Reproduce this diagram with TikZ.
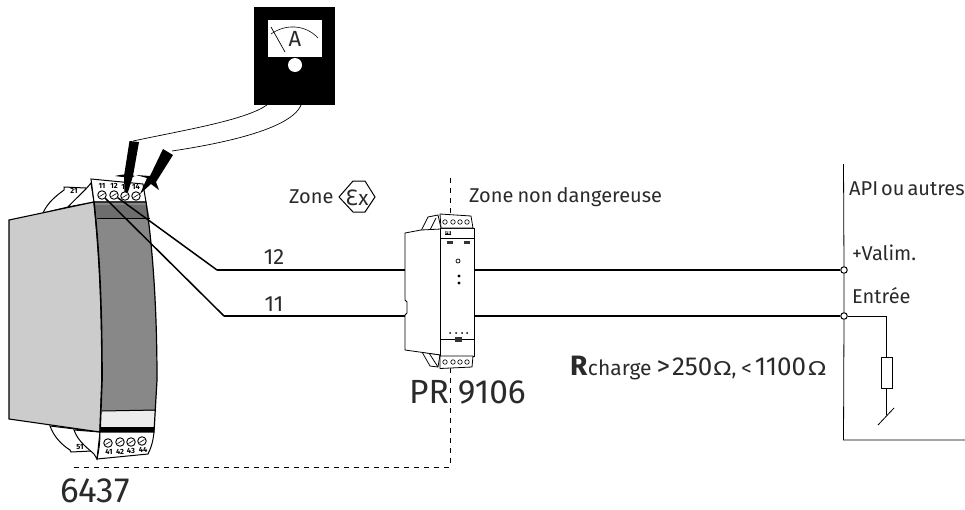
\documentclass[tikz,border=0pt]{standalone}
\usepackage{fontspec}
\setmainfont{Fira Sans}
\newfontfamily\djv{DejaVu Sans}
\definecolor{housing}{HTML}{CCCCCC}
\definecolor{panel}{HTML}{888888}
\definecolor{panelb}{HTML}{6E6E6E}
\definecolor{txt}{HTML}{2A2A2A}
\newcommand{\ohm}{\scalebox{1.25}[1]{\fontsize{19}{20}\djv Ω}}
\tikzset{
  lbl/.style={font=\fontsize{20}{22}\selectfont,text=txt,inner sep=0pt},
  tiny/.style={font=\fontsize{7.5}{8}\bfseries\selectfont,inner sep=0pt},
  wire/.style={line width=1.5pt,black},
  screw/.style={circle,draw,fill=white,minimum size=8.5pt,inner sep=0pt,line width=0.9pt},
  sscrew/.style={circle,draw,fill=white,minimum size=4.5pt,inner sep=0pt,line width=0.6pt},
  port/.style={circle,draw,fill=white,minimum size=6.5pt,inner sep=0pt,line width=1pt},
}
\begin{document}
\begin{tikzpicture}[x=1pt,y=-1pt]
\useasboundingbox (0,0) rectangle (965,509);
% ---------- dashed zone line
\coordinate (dtop) at (450,178);
\coordinate (dcorner) at (450,467);
\coordinate (dend) at (72,467);
\draw[line width=0.9pt,dash pattern=on 5pt off 5pt] (dtop) -- (dcorner) -- (dend);
% ---------- 6437 back terminals
\draw[line width=1pt,fill=white] (43,213) .. controls (48,202) and (56,196) .. (64,190) -- (64,187) -- (86,188) -- (86,200) -- (68,207) -- cycle;
\node[tiny] at (74,191) {21};
\draw[line width=1pt,fill=white] (68,207) .. controls (76,198) and (84,192) .. (91,183) -- (94,202) -- cycle;
% lower back
\draw[line width=1pt,fill=white] (50,426) .. controls (54,437) and (62,445) .. (70,450) -- (71,452) -- (92,451) -- (100,432) -- cycle;
\node[tiny] at (80,447) {51};
\draw[line width=1pt,fill=white] (74,430) .. controls (78,442) and (90,450) .. (94,454) -- (97,459) -- (100,432) -- cycle;
% top terminal block
\draw[line width=1pt,fill=white] (91,179) -- (143,184) -- (146,202) -- (94,202) -- cycle;
\node[tiny] at (102,186) {11};
\node[tiny] at (114,186) {12};
\node[tiny] at (125,187) {13};
\node[tiny] at (136,187) {14};
\foreach \x/\y [count=\i] in {102/195,114/195,125/196,136/196}{\node[screw] (ts\i) at (\x,\y) {};\draw[line width=0.6pt] (\x-2.5,\y+1.5) -- (\x+2.5,\y-1.5);}
% body
\draw[line width=1.1pt,fill=housing] (9,220) -- (94,202) .. controls (99,250) and (102,300) .. (102,380) -- (100,432) -- (9,419) -- cycle;
\fill[panel] (94,202) -- (146,202) .. controls (153,250) and (157,310) .. (157,380) -- (154,432) -- (100,432) -- (102,380) .. controls (102,300) and (99,250) .. (94,202) -- cycle;
\fill[panelb] (95,205) -- (147,205) -- (149.5,218) -- (97,218) -- cycle;
\fill[gray!15] (101.5,411) -- (156,411) -- (155,427) -- (100.5,427) -- cycle;
\fill[black] (100.5,427) -- (155,427) -- (154,432) -- (100,432) -- cycle;
\draw[line width=1.2pt] (94,202) -- (146,202) .. controls (153,250) and (157,310) .. (157,380) -- (154,432) -- (100,432);
\draw[line width=1.6pt] (94,202) .. controls (99,250) and (102,300) .. (102,380) -- (100,432);
\draw[line width=1pt] (97,218) -- (149.5,218);
\draw[line width=1pt] (102,411) -- (156,410);
% bottom terminal block
\draw[line width=1pt,fill=white] (100,432) -- (154,432) .. controls (153,442) and (151,448) .. (148,454) -- (97,459) .. controls (99,450) and (100,442) .. (100,432) -- cycle;
\foreach \x/\y in {108/443,120/442,131/442,142/441}{\node[screw] at (\x,\y) {};\draw[line width=0.6pt] (\x-2.5,\y+1.5) -- (\x+2.5,\y-1.5);}
\node[tiny] at (109,452) {41};
\node[tiny] at (120,451.5) {42};
\node[tiny] at (131,451) {43};
\node[tiny] at (143,449.5) {44};
% ---------- ammeter
\fill[black] (254,7) rectangle (335,105);
\fill[white] (268,20) rectangle (322,57);
\fill[black] (281,57) arc[start angle=180,end angle=0,radius=14] -- cycle;
\fill[white] (295,65) circle[radius=7];
\draw[line width=0.6pt] (271,34) .. controls (285,24) and (305,24) .. (318,38);
\draw[line width=0.7pt] (271,27) -- (285,52);
\node[font=\fontsize{22}{22}\selectfont,text=txt,inner sep=0pt] at (295,39) {A};
\coordinate (amA) at (267,105);
\coordinate (amB) at (301,105);
\coordinate (prA) at (133,141);
\coordinate (prB) at (172,151);
\draw[line width=0.7pt] (prA) .. controls (190,129) and (245,120) .. (amA);
\draw[line width=0.7pt] (prB) .. controls (205,146) and (290,132) .. (amB);
% ---------- probes
\fill[black] (129.5,141) -- (139,142) -- (133,176) -- (128,192) -- (124.5,192) -- (124,176) -- cycle;
\fill[black] (115,176) .. controls (122,174) and (128,174) .. (135,176) -- (130,178) -- cycle;
\fill[black] (163,149) -- (173,155) -- (156,182) -- (159,190) -- (151,184) -- (140,194) -- (147,178) -- (136,175) -- (150,176) -- cycle;
% ---------- main wires
\draw[wire] (ts1) -- (224,316) coordinate (w11a);
\draw[wire] (ts2) -- (217,270) coordinate (w12a);
% ---------- PR device
\coordinate (w12b) at (406,270);
\coordinate (w11b) at (406,316);
\draw[wire] (w12a) -- (w12b);
\draw[wire] (w11a) -- (w11b);
\draw[line width=0.8pt,fill=white] (421,231) -- (428,217) -- (438,215) -- (441,228) -- (441,231) -- cycle;
\draw[line width=0.8pt] (430,230) -- (436,218);
\draw[line width=0.8pt,fill=white] (422,352) -- (430,366) -- (438,367) -- (440,355) -- cycle;
\draw[line width=0.8pt] (429,353) -- (438,367);
\draw[line width=0.8pt,fill=white] (405,233) -- (421,230) -- (441,229) -- (441,355) -- (405,350) -- (405,315) -- (407,313) -- (407,302) -- (405,300) -- cycle;
\draw[line width=0.8pt,fill=white] (440.5,228) -- (474.5,228) -- (474.5,356) -- (440.5,356) -- cycle;
\draw[line width=0.8pt,fill=white] (440,214) -- (471,216) -- (473,228) -- (441,228) -- cycle;
\foreach \x in {445,453,460,467}{\node[sscrew] at (\x,222) {};}
\draw[line width=0.7pt] (441,238) -- (474,238);
\node[font=\fontsize{4.5}{5}\bfseries\selectfont,inner sep=0.5pt,fill=black,text=white] at (448,233) {PR};
\fill[black!80] (447,241) rectangle (453,244);
\fill[black!80] (464,241) rectangle (470,244);
\draw[line width=0.7pt] (458,261) circle[radius=2];
\fill (459,276) circle[radius=1.6];
\fill (459,283) circle[radius=1.6];
\foreach \x in {450,456,462,467}{\fill (\x,333) circle[radius=1];}
\draw[line width=0.7pt] (441,339) -- (474,339);
\fill[black!80] (455,337) rectangle (462,341.5);
\draw[line width=0.8pt,fill=white] (440,356) -- (473,356) -- (472,367) -- (440,368.5) -- cycle;
\foreach \x in {445,453,460,467}{\node[sscrew] at (\x,362) {};}
% ---------- right side
\node[port] (vp) at (844,270) {};
\node[port] (inp) at (844,316) {};
\draw[wire] (475,270) -- (vp);
\draw[wire] (475,316) -- (inp);
\coordinate (boxtop) at (843.5,164);
\coordinate (boxc) at (843.5,440);
\coordinate (boxr) at (965,440);
\draw[line width=0.8pt] (boxtop) -- (vp) -- (inp) -- (boxc) -- (boxr);
\coordinate (rt) at (886.5,316);
\node[draw,line width=0.8pt,minimum width=11pt,minimum height=31pt,inner sep=0pt,anchor=north] (res) at (886.5,357) {};
\draw[line width=0.8pt] (inp) -- (rt) -- (res.north);
\coordinate (sw) at (886.5,415);
\draw[line width=0.8pt] (res.south) -- (sw);
\coordinate (s1) at (878,425);
\coordinate (s2) at (894,408);
\draw[line width=0.8pt] (s1) -- (s2);
% ---------- Ex
\draw[line width=1pt] (339,197) -- (353,181) -- (365,181) -- (375,197) -- (365,212) -- (353,212) -- cycle;
\node[font=\fontsize{21}{21}\selectfont,text=txt,inner sep=0pt] at (357,198) {{\djv Ɛ}x};
% ---------- text
\node[lbl,anchor=west] at (289,197) {Zone};
\node[lbl,anchor=west] at (469,197) {Zone\kern4pt non\kern4pt dangereuse};
\node[lbl,anchor=west] at (849,189) {API\kern3pt ou\kern3pt autres};
\node[lbl,anchor=west] at (852,253) {+Valim.};
\node[lbl,anchor=west] at (852,296) {Entrée};
\node[lbl,font=\fontsize{22}{22}\selectfont] at (274,257) {12};
\node[lbl,font=\fontsize{22}{22}\selectfont] at (274,304) {11};
\node[lbl,anchor=base west] at (570,375) {{\fontsize{28}{29}\bfseries\selectfont R}\kern0.5pt {\fontsize{21}{22}\selectfont charge}\kern5pt{\fontsize{27}{28}\selectfont >}\kern2pt{\fontsize{26}{28}\selectfont 250}\kern1pt\ohm,\kern5pt{\fontsize{21}{22}\selectfont <}\kern3pt{\fontsize{26}{28}\selectfont 1100}\kern2pt\ohm};
\node[font=\fontsize{33.5}{36}\selectfont,text=txt,inner sep=0pt,anchor=west] at (409,392) {PR 9106};
\node[font=\fontsize{35}{36}\selectfont,text=txt,inner sep=0pt,anchor=west] at (60,491) {6437};
\end{tikzpicture}
\end{document}
